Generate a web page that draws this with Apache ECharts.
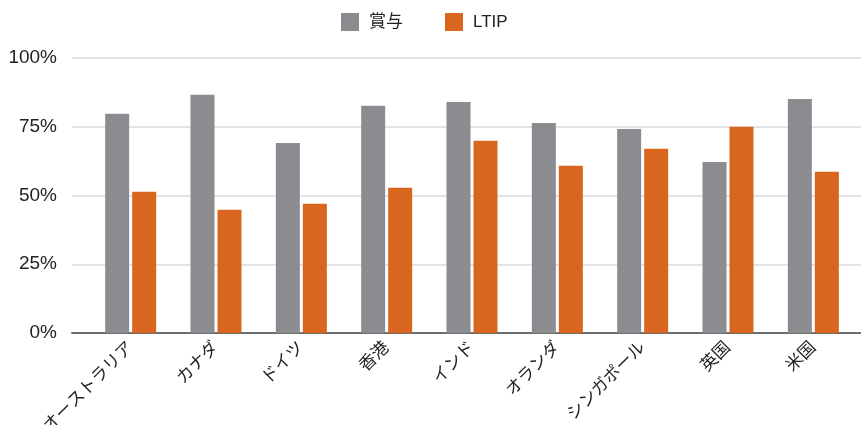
<!DOCTYPE html>
<html>
<head>
<meta charset="utf-8">
<script src="https://cdn.jsdelivr.net/npm/echarts@6/dist/echarts.min.js"></script>
<style>
  html, body { margin: 0; padding: 0; background: #fff; }
  #chart { width: 861px; height: 425px; }
</style>
</head>
<body>
<div id="chart"></div>
<script>
// Countries on the horizontal axis
const categories = ['オーストラリア', 'カナダ', 'ドイツ', '香港', 'インド', 'オランダ', 'シンガポール', '英国', '米国'];
// Share of companies using each incentive type (%)
const bonus = [79.7, 86.6, 69.1, 82.6, 84.0, 76.4, 74.2, 62.2, 85.1];
const ltip = [51.4, 44.8, 47.0, 52.8, 69.9, 60.8, 67.0, 75.0, 58.6];
// Y axis tick values (%)
const yTicks = [0, 25, 50, 75, 100];

const FONT = '"Liberation Sans", "Noto Sans CJK JP", sans-serif';
const GRAY = '#8b8c90';
const ORANGE = '#d9661e';

const chart = echarts.init(document.getElementById('chart'), null, { renderer: 'canvas' });
chart.setOption({
  animation: false,
  textStyle: { fontFamily: FONT },
  legend: {
    top: 8,
    left: 336,
    itemWidth: 18,
    itemHeight: 18,
    itemGap: 42,
    icon: 'rect',
    textStyle: { fontSize: 17, color: '#222', fontFamily: FONT, padding: [0, 0, 0, 5] },
    data: ['賞与', 'LTIP']
  },
  grid: [
    // grid for the bars
    { left: 88, right: 5, top: 58, bottom: 92, containLabel: false, outerBoundsMode: 'none' },
    // wider grid carrying the gridlines, y labels and baseline
    { left: 72, right: 0, top: 58, bottom: 92, containLabel: false, outerBoundsMode: 'none' }
  ],
  xAxis: [
    {
      type: 'category',
      gridIndex: 0,
      data: categories,
      axisLine: { show: false },
      axisTick: { show: false },
      axisLabel: {
        rotate: 45,
        interval: 0,
        margin: 12,
        fontSize: 17,
        color: '#222',
        fontFamily: FONT
      }
    },
    {
      type: 'value',
      gridIndex: 1,
      min: 0,
      max: 1,
      axisLabel: { show: false },
      axisTick: { show: false },
      splitLine: { show: false },
      axisLine: { show: true, onZero: false, lineStyle: { color: '#6e6e6e', width: 2 } }
    }
  ],
  yAxis: [
    {
      type: 'value',
      gridIndex: 0,
      min: yTicks[0],
      max: yTicks[yTicks.length - 1],
      interval: 25,
      show: false,
      splitLine: { show: false }
    },
    {
      type: 'value',
      gridIndex: 1,
      min: yTicks[0],
      max: yTicks[yTicks.length - 1],
      interval: 25,
      axisLine: { show: false },
      axisTick: { show: false },
      axisLabel: {
        margin: 15,
        fontSize: 19,
        color: '#222',
        fontFamily: FONT,
        formatter: '{value}%'
      },
      splitLine: { show: true, lineStyle: { color: '#e4e4e4', width: 2 } }
    }
  ],
  series: [
    {
      name: '賞与',
      type: 'bar',
      xAxisIndex: 0,
      yAxisIndex: 0,
      data: bonus,
      barWidth: 24,
      barGap: '12.5%',
      itemStyle: { color: GRAY }
    },
    {
      name: 'LTIP',
      type: 'bar',
      xAxisIndex: 0,
      yAxisIndex: 0,
      data: ltip,
      barWidth: 24,
      barGap: '12.5%',
      itemStyle: { color: ORANGE }
    }
  ]
});
</script>
</body>
</html>
